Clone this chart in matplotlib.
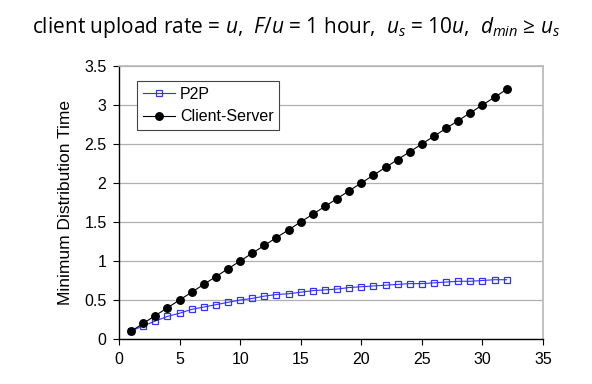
import matplotlib
matplotlib.use("Agg")
import matplotlib.pyplot as plt

# number of peers N
n_peers = list(range(1, 33))
# minimum distribution time (hours)
client_server = [0.1, 0.2, 0.3, 0.4, 0.5, 0.6, 0.7, 0.8, 0.9, 1.0, 1.1, 1.2, 1.3, 1.4, 1.5, 1.6,
                 1.7, 1.8, 1.9, 2.0, 2.1, 2.2, 2.3, 2.4, 2.5, 2.6, 2.7, 2.8, 2.9, 3.0, 3.1, 3.2]
p2p = [0.10, 0.17, 0.23, 0.29, 0.33, 0.38, 0.41, 0.44, 0.47, 0.50, 0.52, 0.55, 0.57, 0.58, 0.60, 0.62,
       0.63, 0.64, 0.66, 0.67, 0.68, 0.69, 0.70, 0.71, 0.71, 0.72, 0.73, 0.74, 0.74, 0.75, 0.76, 0.76]

x_ticks = [0, 5, 10, 15, 20, 25, 30, 35]
y_ticks = [0, 0.5, 1, 1.5, 2, 2.5, 3, 3.5]
y_labels = ["0", "0.5", "1", "1.5", "2", "2.5", "3", "3.5"]

plt.rcParams['font.family'] = ['Liberation Sans', 'DejaVu Sans']
plt.rcParams['mathtext.fontset'] = 'custom'
plt.rcParams['mathtext.rm'] = 'Open Sans'
plt.rcParams['mathtext.it'] = 'Open Sans:italic'

fig = plt.figure(figsize=(5.92, 3.84), dpi=100)
ax = fig.add_axes([119 / 592, 1 - 339 / 384, (543 - 119) / 592, (339 - 66) / 384])

ax.plot(n_peers, p2p, color='#3333ff', lw=0.8, marker='s', ms=5.0,
        mfc='none', mec='#3333ff', mew=0.9, label='P2P', zorder=3)
ax.plot(n_peers, client_server, color='black', lw=0.8, marker='o', ms=5.4,
        mfc='black', mec='black', label='Client-Server', zorder=3)

ax.set_xlim(0, 35)
ax.set_ylim(0, 3.5)
ax.set_xticks(x_ticks)
ax.set_yticks(y_ticks)
ax.set_yticklabels(y_labels)
ax.tick_params(labelsize=11.5, length=4, width=0.8, direction='out', pad=5)
ax.yaxis.grid(True, color='#b0b0b0', lw=0.9)
ax.set_axisbelow(True)

for s in ['left', 'bottom']:
    ax.spines[s].set_color('black')
    ax.spines[s].set_linewidth(1)
for s in ['top', 'right']:
    ax.spines[s].set_color('#b8b8b8')
    ax.spines[s].set_linewidth(1.2)

ax.set_ylabel('Minimum Distribution Time', fontsize=12.5, labelpad=8)

leg = ax.legend(loc='upper left', bbox_to_anchor=(0.035, 0.955), fontsize=11.5,
                frameon=True, fancybox=False, edgecolor='#444444', framealpha=1,
                handlelength=2.0, handletextpad=0.35, borderpad=0.35, labelspacing=0.45,
                borderaxespad=0.2)
leg.get_frame().set_linewidth(0.8)

fig.text(0.5, 1 - 27 / 384,
         r'client upload rate = $u$,  $F/u$ = 1 hour,  $u_s$ = $\mathit{10u}$,  $d_{min}$ ≥ $u_s$',
         ha='center', va='center', fontsize=15, family=['Open Sans', 'DejaVu Sans'])

fig.savefig('out.png', dpi=100, facecolor='white')
